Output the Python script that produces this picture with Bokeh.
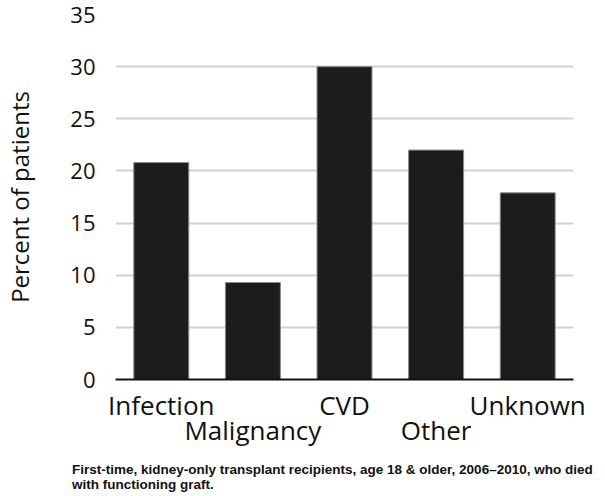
import html
from bokeh.plotting import figure
from bokeh.models import ColumnDataSource, LinearAxis, Range1d, FixedTicker, Div
from bokeh.layouts import column
from bokeh.embed import file_html
from bokeh.resources import INLINE

categories = ["Infection", "Malignancy", "CVD", "Other", "Unknown"]
values = [20.8, 9.3, 30.0, 22.0, 17.9]
y_ticks = [0, 5, 10, 15, 20, 25, 30, 35]
footnote = ["First-time, kidney-only transplant recipients, age 18 & older, 2006\u20132010, who died",
            "with functioning graft."]

pos = list(range(len(categories)))
src = ColumnDataSource(dict(x=pos, val=values))

p = figure(width=595, height=462, output_backend="svg",
           toolbar_location=None, min_border_left=107, min_border_right=22,
           min_border_top=14, min_border_bottom=83)
p.x_range = Range1d(-0.5, len(categories) - 0.5)
p.y_range = Range1d(0, 35)

p.vbar(x="x", top="val", width=0.6, source=src, fill_color="#1c1c1c",
       line_color="#8a8a8a", line_width=1)

p.outline_line_color = None
p.xgrid.grid_line_color = None
p.ygrid.grid_line_color = "#d2d2d2"
p.ygrid.grid_line_width = 2

p.yaxis.ticker = FixedTicker(ticks=y_ticks)
p.yaxis.axis_line_color = None
p.yaxis.major_tick_line_color = None
p.yaxis.minor_tick_line_color = None
p.yaxis.major_label_text_font = "Open Sans"
p.yaxis.major_label_text_font_size = "22px"
p.yaxis.major_label_text_color = "#111111"
p.yaxis.major_label_standoff = 14
p.yaxis.axis_label = "Percent of patients"
p.yaxis.axis_label_text_font = "Open Sans"
p.yaxis.axis_label_text_font_size = "24px"
p.yaxis.axis_label_text_font_style = "normal"
p.yaxis.axis_label_text_color = "#111111"
p.yaxis.axis_label_standoff = 31

def style_x(ax, idx, standoff):
    ax.ticker = FixedTicker(ticks=idx)
    ax.major_label_overrides = {i: categories[i] for i in idx}
    ax.major_tick_line_color = None
    ax.minor_tick_line_color = None
    ax.major_label_text_font = "Open Sans"
    ax.major_label_text_font_size = "26px"
    ax.major_label_text_color = "#111111"
    ax.major_label_standoff = standoff

xa = p.xaxis[0]
style_x(xa, [i for i in pos if i % 2 == 0], 1)
xa.axis_line_color = "#111111"
xa.axis_line_width = 2

xb = LinearAxis()
style_x(xb, [i for i in pos if i % 2 == 1], -20)
xb.axis_line_color = None
p.add_layout(xb, "below")

inner = ("<div style=\"font-family: 'Liberation Sans', Arial, sans-serif; font-weight: bold; "
         "font-size: 13.5px; line-height: 15px; color: #111111; white-space: nowrap; "
         "margin: 0; padding: 0;\">" + "<br>".join(html.escape(t) for t in footnote) + "</div>")
note = Div(text=inner, width=520, height=16, margin=(0, 0, 0, 72))

open("out.html", "w").write(file_html(column(p, note, spacing=0), INLINE))
